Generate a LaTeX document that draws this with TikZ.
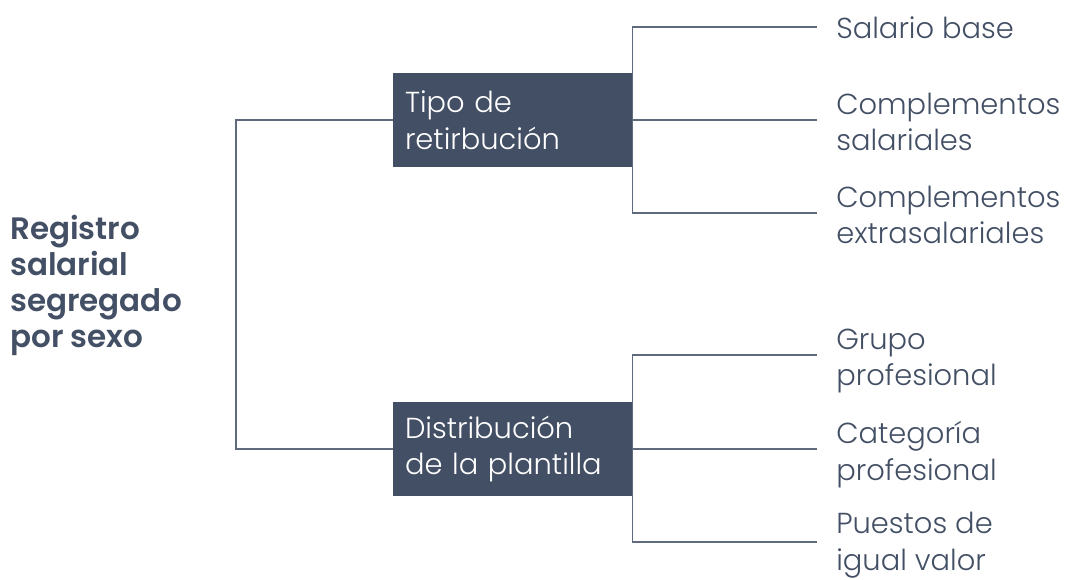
\documentclass[tikz,border=0pt]{standalone}
\usepackage{fontspec}
\setmainfont{Poppins}[UprightFont=* Light]
\definecolor{ink}{HTML}{434F64}
\definecolor{wirec}{HTML}{5F6A7D}
\begin{document}
\begin{tikzpicture}[x=0.75pt,y=-0.75pt,
  wire/.style={draw=wirec,line width=1pt},
  txt/.style={font=\fontsize{21.7pt}{27.4pt}\selectfont},
  box/.style={txt,fill=ink,text=white,minimum width=179.25pt,minimum height=70.5pt,
    inner xsep=9pt,inner ysep=0pt,text width=161.25pt,align=left},
  leaf/.style={txt,text=ink,inner sep=0pt,align=left,anchor=base west},
  title/.style={font=\fontsize{23.25pt}{27pt}\selectfont\bfseries,text=ink,inner sep=0pt,align=left,anchor=base west}]
\useasboundingbox (0,0) rectangle (1066,580);

% main boxes
\node[box] (b1) at (512.5,120) {Tipo de\\retirbución};
\node[box] (b2) at (512.5,449) {Distribución\\de la plantilla};

% title
\node[title] (root) at (10,348) {Registro\\salarial\\segregado\\por sexo};

% left bracket
\coordinate (lv) at (236,0);
\draw[wire] (b1.west) -- (b1.west -| lv) -- (b2.west -| lv) -- (b2.west);

% leaf end points
\coordinate (e1) at (817,27);
\coordinate (e2) at (817,120);
\coordinate (e3) at (817,213);
\coordinate (e4) at (817,355);
\coordinate (e5) at (817,449);
\coordinate (e6) at (817,542);

% right brackets
\draw[wire] (e1) -- (e1 -| b1.east) -- (e3 -| b1.east) -- (e3);
\draw[wire] (b1.east) -- (e2);
\draw[wire] (e4) -- (e4 -| b2.east) -- (e6 -| b2.east) -- (e6);
\draw[wire] (b2.east) -- (e5);

% leaves
\node[leaf] (l1) at ([shift={(19,12)}]e1) {Salario base};
\node[leaf] (l2) at ([shift={(19,31)}]e2) {Complementos\\salariales};
\node[leaf] (l3) at ([shift={(19,31)}]e3) {Complementos\\extrasalariales};
\node[leaf] (l4) at ([shift={(19,31)}]e4) {Grupo\\profesional};
\node[leaf] (l5) at ([shift={(19,31)}]e5) {Categoría\\profesional};
\node[leaf] (l6) at ([shift={(19,28)}]e6) {Puestos de\\igual valor};
\end{tikzpicture}
\end{document}
